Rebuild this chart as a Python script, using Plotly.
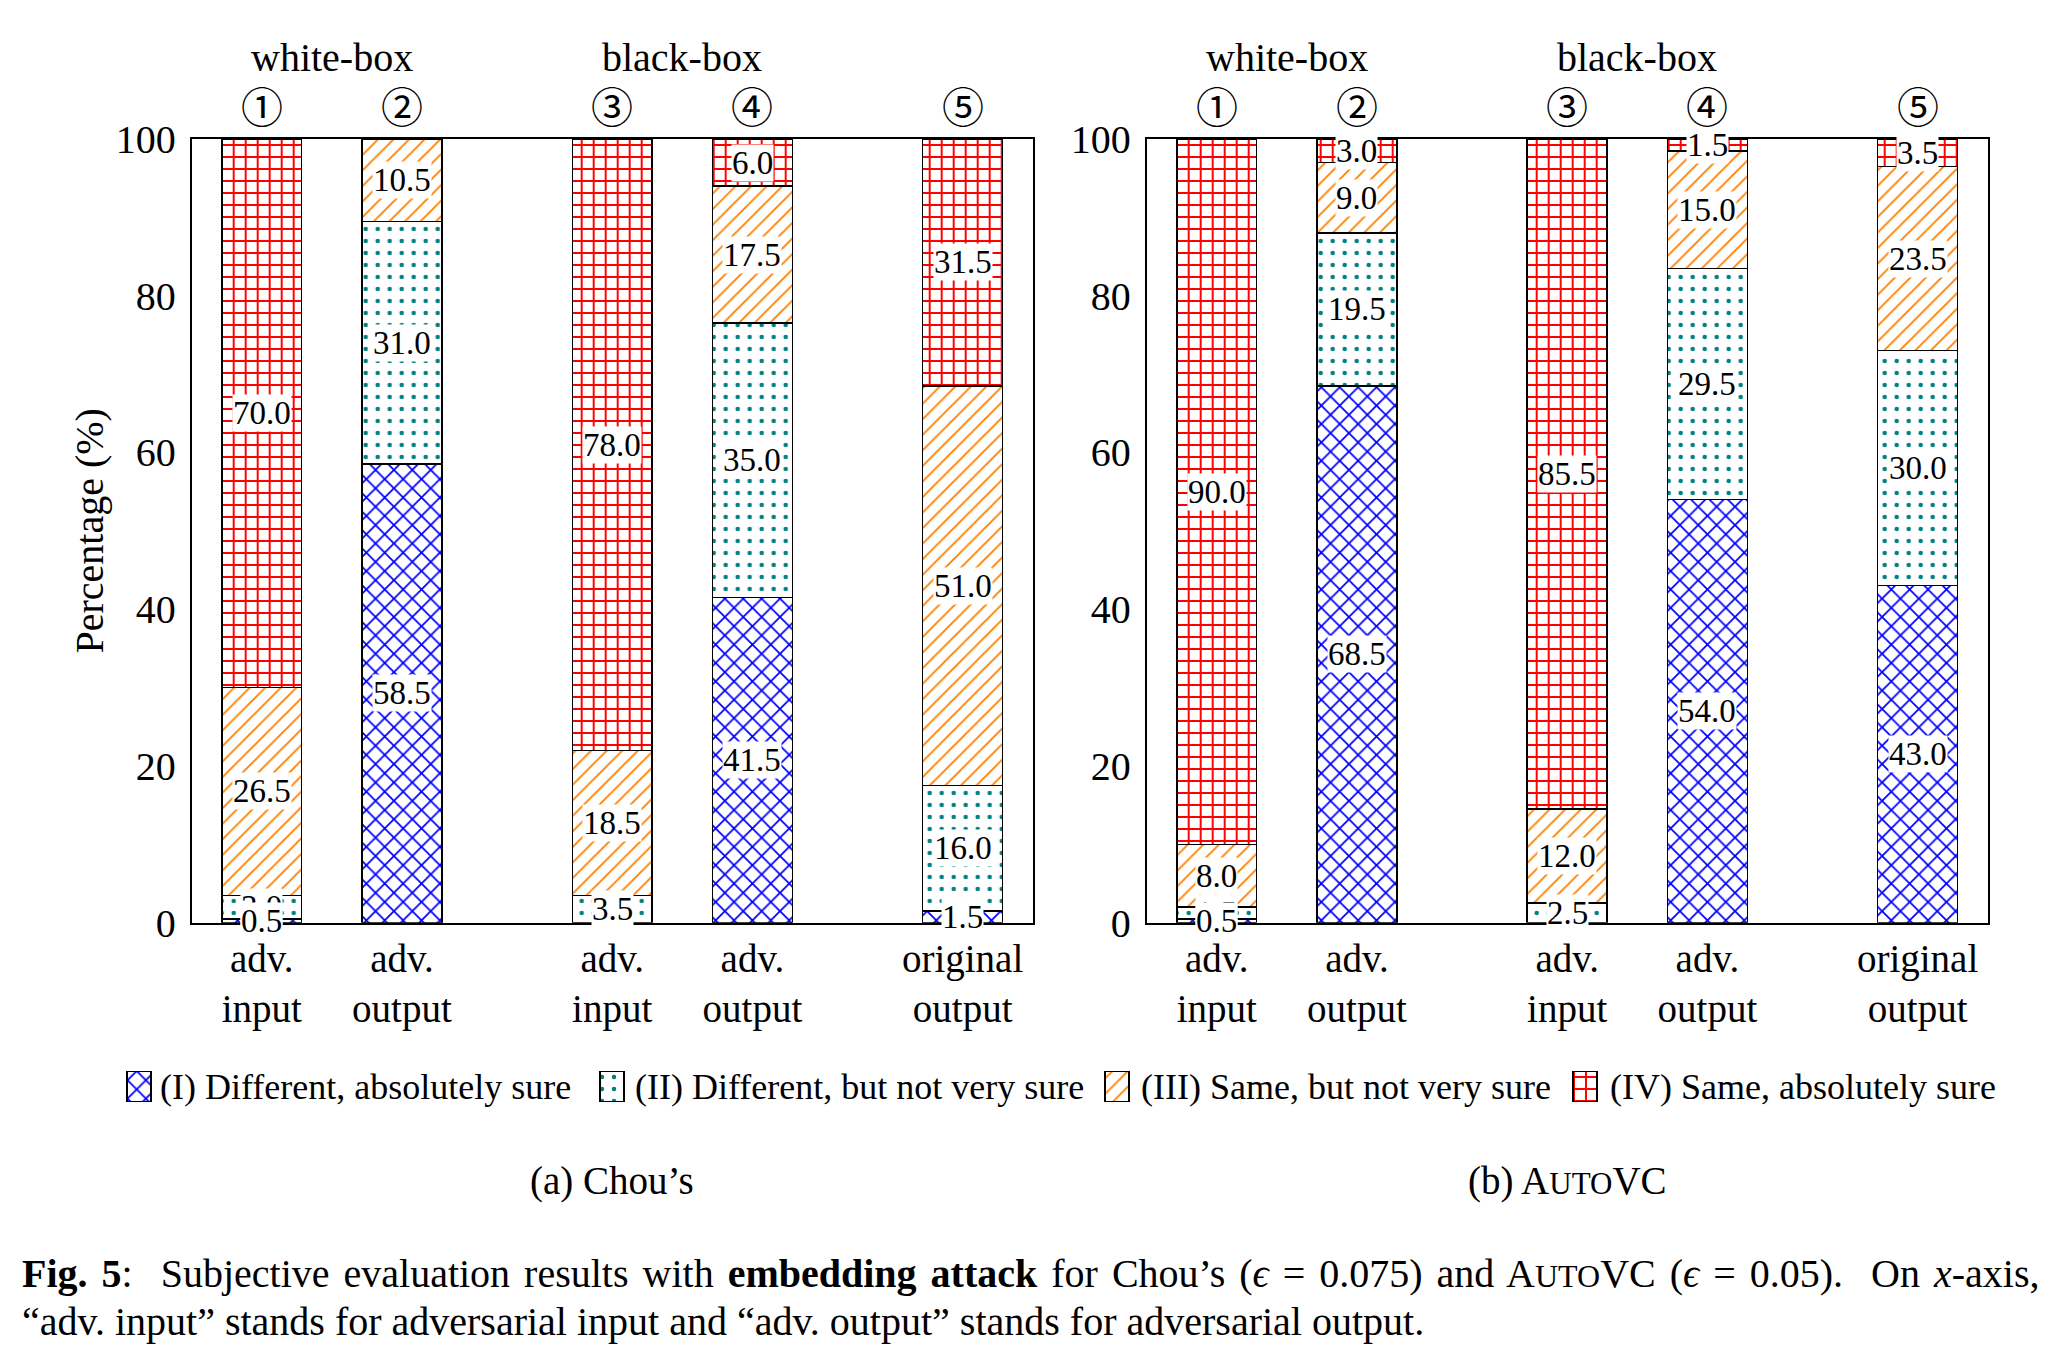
import plotly.graph_objects as go

# ---------------- data ----------------
categories = ["adv.<br>input", "adv.<br>output", "adv.<br>input", "adv.<br>output", "original<br>output"]
series_names = [
    "(I) Different, absolutely sure",
    "(II) Different, but not very sure",
    "(III) Same, but not very sure",
    "(IV) Same, absolutely sure",
]
circled = ["①", "②", "③", "④", "⑤"]
group_labels = ["white-box", "black-box"]
y_ticks = [0, 20, 40, 60, 80, 100]

chou_I = [0.5, 58.5, 0.0, 41.5, 1.5]
chou_II = [3.0, 31.0, 3.5, 35.0, 16.0]
chou_III = [26.5, 10.5, 18.5, 17.5, 51.0]
chou_IV = [70.0, 0.0, 78.0, 6.0, 31.5]

autovc_I = [0.5, 68.5, 0.0, 54.0, 43.0]
autovc_II = [1.5, 19.5, 2.5, 29.5, 30.0]
autovc_III = [8.0, 9.0, 12.0, 15.0, 23.5]
autovc_IV = [90.0, 3.0, 85.5, 1.5, 3.5]

# ---------------- layout / style ----------------
W, H = 2054, 1350
OFF = 8  # page body margin offset (px)
positions = [1, 2, 3.5, 4.5, 6]
group_pos = [1.5, 4.0]
bar_width = 0.57
FONT = "Liberation Serif, Times New Roman, serif"
CIRC_FONT = "Noto Sans CJK JP, DejaVu Sans, serif"


def px_x(x):
    return (x - OFF) / W


def px_y(y):
    return 1 - (y - OFF) / H


styles = [
    dict(shape="x", fg="#0000ff", size=13, solidity=0.25),
    dict(shape=".", fg="#008080", size=12, solidity=0.11),
    dict(shape="/", fg="#ff8000", size=11, solidity=0.17),
    dict(shape="+", fg="#ff0000", size=12, solidity=0.30),
]


def marker_for(st):
    return dict(
        color="white",
        line=dict(color="black", width=1.5),
        pattern=dict(shape=st["shape"], fgcolor=st["fg"], bgcolor="white", fgopacity=1,
                     size=st["size"], solidity=st["solidity"], fillmode="replace"),
    )


SC = "<span style='font-size:31px'>UTO</span>"
panels = [
    dict(data=[chou_I, chou_II, chou_III, chou_IV], xa="x", ya="y",
         dom=(191.7, 1032.7), sub="(a) Chou’s"),
    dict(data=[autovc_I, autovc_II, autovc_III, autovc_IV], xa="x2", ya="y2",
         dom=(1146.7, 1987.7), sub="(b) A" + SC + "VC"),
]

plot_top, plot_bot = 139.0, 922.7
ydom = [px_y(plot_bot), px_y(plot_top)]

fig = go.Figure()
annotations = []

for pi, p in enumerate(panels):
    for si, vals in enumerate(p["data"]):
        fig.add_trace(go.Bar(
            x=positions,
            y=[v if v > 0 else None for v in vals],
            width=bar_width,
            name=series_names[si],
            showlegend=False,
            xaxis=p["xa"], yaxis=p["ya"],
            marker=marker_for(styles[si]),
            hoverinfo="skip",
        ))
    # value labels (series I drawn last so it sits on top)
    n = len(positions)
    bases = []
    cum = [0.0] * n
    for vals in p["data"]:
        bases.append(list(cum))
        cum = [c + v for c, v in zip(cum, vals)]
    for si in [3, 2, 1, 0]:
        vals = p["data"][si]
        for i in range(n):
            v = vals[i]
            if v <= 0:
                continue
            annotations.append(dict(
                x=positions[i], y=bases[si][i] + v / 2, xref=p["xa"], yref=p["ya"],
                text=f"{v:.1f}", showarrow=False, xanchor="center", yanchor="middle",
                font=dict(family=FONT, size=33, color="black"),
                bgcolor="white", borderpad=0,
            ))
    for gl, gx in zip(group_labels, group_pos):
        annotations.append(dict(
            x=gx, y=px_y(58), xref=p["xa"], yref="paper", text=gl, showarrow=False,
            font=dict(family=FONT, size=40, color="black"), xanchor="center", yanchor="middle",
        ))
    for c, px in zip(circled, positions):
        annotations.append(dict(
            x=px, y=px_y(105), xref=p["xa"], yref="paper", text=c, showarrow=False,
            font=dict(family=CIRC_FONT, size=42, color="black"), xanchor="center", yanchor="middle",
        ))
    annotations.append(dict(
        x=px_x((p["dom"][0] + p["dom"][1]) / 2), y=px_y(1181), xref="paper", yref="paper",
        text=p["sub"], showarrow=False, font=dict(family=FONT, size=39, color="black"),
        xanchor="center", yanchor="middle",
    ))

# ---- custom legend (pattern swatches drawn as bars on a hidden pixel axis) ----
swatch_x = [139, 612, 1117, 1585]
legend_text_x = [158, 633, 1139, 1608]
for si in range(4):
    fig.add_trace(go.Bar(
        x=[swatch_x[si] - OFF], y=[1], width=24, xaxis="x3", yaxis="y3",
        marker=marker_for(styles[si]), showlegend=False, hoverinfo="skip",
        name=series_names[si],
    ))
    annotations.append(dict(
        x=legend_text_x[si] - OFF, y=0.5, xref="x3", yref="y3", text=series_names[si],
        showarrow=False, xanchor="left", yanchor="middle",
        font=dict(family=FONT, size=36, color="black"),
    ))

NB = "&nbsp;"
annotations.append(dict(
    x=px_x(20), y=px_y(1273), xref="paper", yref="paper", xanchor="left", yanchor="middle",
    text=("<span style='word-spacing:4px'><b>Fig. 5</b>:" + NB * 2 +
          "Subjective evaluation results with <b>embedding attack</b> for Chou’s "
          "(<i>ϵ</i> = 0.075) and A<span style='font-size:32px'>UTO</span>VC (<i>ϵ</i> = 0.05)." + NB * 2 +
          "On <i>x</i>-axis,</span>"),
    showarrow=False, font=dict(family=FONT, size=40, color="black"),
))
annotations.append(dict(
    x=px_x(20), y=px_y(1321), xref="paper", yref="paper", xanchor="left", yanchor="middle",
    text="“adv. input” stands for adversarial input and “adv. output” stands for adversarial output.",
    showarrow=False, font=dict(family=FONT, size=40, color="black"),
))

axis_common = dict(showline=True, mirror=True, linecolor="black", linewidth=2,
                   ticks="", showgrid=False, zeroline=False, automargin=False)

fig.update_layout(
    width=W, height=H,
    margin=dict(l=0, r=0, t=0, b=0, pad=0),
    paper_bgcolor="white", plot_bgcolor="white",
    barmode="stack",
    font=dict(family=FONT, color="black"),
    showlegend=False,
    annotations=annotations,
    xaxis=dict(domain=[px_x(panels[0]["dom"][0]), px_x(panels[0]["dom"][1])], range=[0.5, 6.5],
               tickmode="array", tickvals=positions, ticktext=categories, ticklabelstandoff=0,
               tickfont=dict(family=FONT, size=39), anchor="y", **axis_common),
    yaxis=dict(domain=ydom, range=[0, 100], tickmode="array", tickvals=y_ticks,
               tickfont=dict(family=FONT, size=40), anchor="x", ticklabelstandoff=6,
               title=dict(text="Percentage (%)", font=dict(family=FONT, size=40), standoff=0),
               **axis_common),
    xaxis2=dict(domain=[px_x(panels[1]["dom"][0]), px_x(panels[1]["dom"][1])], range=[0.5, 6.5],
                tickmode="array", tickvals=positions, ticktext=categories, ticklabelstandoff=0,
                tickfont=dict(family=FONT, size=39), anchor="y2", **axis_common),
    yaxis2=dict(domain=ydom, range=[0, 100], tickmode="array", tickvals=y_ticks,
                tickfont=dict(family=FONT, size=40), anchor="x2", ticklabelstandoff=6,
                **axis_common),
    xaxis3=dict(domain=[0, 1], range=[0, W], visible=False, fixedrange=True, anchor="y3",
                automargin=False),
    yaxis3=dict(domain=[px_y(1102), px_y(1071)], range=[0, 1], visible=False,
                fixedrange=True, anchor="x3", automargin=False),
)

fig.write_html("out.html")
